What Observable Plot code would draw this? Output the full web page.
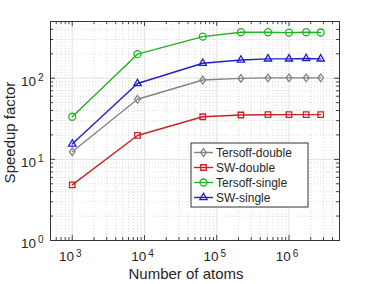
<!DOCTYPE html>
<html>
<head>
<meta charset="utf-8">
<script src="https://cdn.jsdelivr.net/npm/d3@7"></script>
<script src="https://cdn.jsdelivr.net/npm/@observablehq/plot@0.6"></script>
<style>
  html, body { margin: 0; padding: 0; background: #fff; }
  svg { font-family: "Liberation Sans", Arial, sans-serif; }
</style>
</head>
<body>
<div id="chart"></div>
<script>
// ---- data ----
const atoms = [1000, 8000, 64000, 216000, 512000, 1000000, 1728000, 2744000];
const seriesNames = ["Tersoff-double", "SW-double", "Tersoff-single", "SW-single"];
const tersoffDouble = [12.4, 55, 95, 99.5, 101, 101, 101, 101];
const swDouble = [4.85, 19.7, 33.5, 35.2, 35.5, 35.6, 35.6, 35.6];
const tersoffSingle = [33.5, 198, 326, 369, 369, 365, 369, 366];
const swSingle = [15.5, 86, 153, 168, 173, 173, 175, 173];
const seriesColors = ["#848484", "#c42424", "#1eb41e", "#2020c8"];
const xMajorTicks = [1e3, 1e4, 1e5, 1e6];
const yMajorTicks = [1, 10, 100];
const xLabel = "Number of atoms";
const yLabel = "Speedup factor";

const seriesValues = [tersoffDouble, swDouble, tersoffSingle, swSingle];
const rows = seriesNames.flatMap((name, i) =>
  atoms.map((a, j) => ({series: name, atoms: a, speedup: seriesValues[i][j]})));

const xDomain = [500, 5e6];
const yDomain = [1, 500];
const minorOf = (lo, hi) => {
  const out = [];
  const start = Math.floor(Math.log10(lo)), end = Math.ceil(Math.log10(hi));
  for (let e = start; e <= end; e++) for (let k = 2; k <= 9; k++) {
    const v = k * Math.pow(10, e);
    if (v > lo && v < hi) out.push(v);
  }
  return out;
};
const xMinor = minorOf(xDomain[0], xDomain[1]);
const yMinor = minorOf(yDomain[0], yDomain[1]);

const tallDiamond = {
  draw(ctx, size) {
    const s = Math.sqrt(size);
    const w = s * 0.46, h = s * 0.62;
    ctx.moveTo(0, -h); ctx.lineTo(w, 0); ctx.lineTo(0, h); ctx.lineTo(-w, 0); ctx.closePath();
  }
};
const symbols = [tallDiamond, "square2", "circle", "triangle2"];

const W = 374, H = 284, mL = 50, mR = 35, mT = 21, mB = 44;
const frameH = H - mT - mB, frameW = W - mL - mR;
const expFmt = d => "10|" + Math.round(Math.log10(d));

const svg = Plot.plot({
  width: W, height: H,
  marginLeft: mL, marginRight: mR, marginTop: mT, marginBottom: mB,
  style: {fontFamily: "Liberation Sans, Arial, sans-serif", background: "#fff"},
  x: {type: "log", domain: xDomain},
  y: {type: "log", domain: yDomain},
  color: {domain: seriesNames, range: seriesColors},
  symbol: {domain: seriesNames, range: symbols},
  marks: [
    Plot.ruleX(xMinor, {stroke: "#d2d2d2", strokeDasharray: "1,2", strokeWidth: 0.8}),
    Plot.ruleY(yMinor, {stroke: "#d2d2d2", strokeDasharray: "1,2", strokeWidth: 0.8}),
    Plot.ruleX(xMajorTicks, {stroke: "#e6e6e6", strokeWidth: 1.2}),
    Plot.ruleY(yMajorTicks, {stroke: "#e6e6e6", strokeWidth: 1.2}),
    // inward ticks on all four sides
    Plot.tickX(xMajorTicks, {x: d => d, insetTop: frameH - 5, stroke: "#444"}),
    Plot.tickX(xMajorTicks, {x: d => d, insetBottom: frameH - 5, stroke: "#444"}),
    Plot.tickX(xMinor, {x: d => d, insetTop: frameH - 3, stroke: "#444"}),
    Plot.tickX(xMinor, {x: d => d, insetBottom: frameH - 3, stroke: "#444"}),
    Plot.tickY(yMajorTicks, {y: d => d, insetRight: frameW - 5, stroke: "#444"}),
    Plot.tickY(yMajorTicks, {y: d => d, insetLeft: frameW - 5, stroke: "#444"}),
    Plot.tickY(yMinor, {y: d => d, insetRight: frameW - 3, stroke: "#444"}),
    Plot.tickY(yMinor, {y: d => d, insetLeft: frameW - 3, stroke: "#444"}),
    Plot.frame({stroke: "#333", strokeWidth: 1}),
    Plot.axisX(xMajorTicks, {tickSize: 0, tickPadding: 11, tickFormat: expFmt, fontSize: 13.5, fill: "#262626", label: null, dx: -2}),
    Plot.axisY(yMajorTicks, {tickSize: 0, tickPadding: 7, tickFormat: expFmt, fontSize: 13.5, fill: "#262626", label: null, dy: 3}),
    Plot.text([xLabel], {frameAnchor: "bottom", dx: -9, dy: 38, text: d => d, fontSize: 15, fill: "#262626"}),
    Plot.line(rows, {x: "atoms", y: "speedup", z: "series", stroke: "series", strokeWidth: 1.4}),
    Plot.dot(rows, {x: "atoms", y: "speedup", stroke: "series", symbol: "series", r: 3.5, fill: "none", strokeWidth: 1.3})
  ]
});

// superscript exponents on tick labels
d3.select(svg).selectAll('g[aria-label="x-axis tick label"] text, g[aria-label="y-axis tick label"] text').each(function () {
  const t = d3.select(this);
  const txt = t.text();
  if (!txt.includes("|")) return;
  const [base, exp] = txt.split("|");
  t.text(null).attr("font-size", 13.5);
  t.append("tspan").text(base);
  t.append("tspan").attr("dx", 2).attr("dy", "-0.45em").attr("font-size", "10px").text(exp);
});

// y-axis title
d3.select(svg).append("text")
  .attr("transform", `translate(15,${(mT + H - mB) / 2 + 2}) rotate(-90)`)
  .attr("text-anchor", "middle")
  .attr("font-family", "Liberation Sans, Arial, sans-serif")
  .attr("font-size", 15).attr("fill", "#262626")
  .text(yLabel);

// legend inside the plot
const lg = d3.select(svg).append("g").attr("class", "legend")
  .attr("font-family", "Liberation Sans, Arial, sans-serif")
  .attr("text-anchor", "start");
const lx = 191, ly = 143, lw = 117, lh = 64, rowH = 15;
lg.append("rect").attr("x", lx).attr("y", ly).attr("width", lw).attr("height", lh)
  .attr("fill", "#fff").attr("stroke", "#333").attr("stroke-width", 1);
seriesNames.forEach((name, i) => {
  const cy = ly + 9.5 + i * rowH;
  const col = seriesColors[i];
  lg.append("line").attr("x1", lx + 3).attr("x2", lx + 22).attr("y1", cy).attr("y2", cy)
    .attr("stroke", col).attr("stroke-width", 1.4);
  const sym = typeof symbols[i] === "string"
    ? {square2: d3.symbolSquare2, circle: d3.symbolCircle, triangle2: d3.symbolTriangle2}[symbols[i]]
    : symbols[i];
  lg.append("path").attr("d", d3.symbol(sym, 3.5 * 3.5 * Math.PI)())
    .attr("transform", `translate(${lx + 12.5},${cy})`)
    .attr("fill", "none").attr("stroke", col).attr("stroke-width", 1.3);
  lg.append("text").attr("x", lx + 25).attr("y", cy).attr("dy", "0.35em")
    .attr("text-anchor", "start")
    .attr("font-size", 12).attr("fill", "#262626").text(name);
});

document.getElementById("chart").appendChild(svg);
</script>
</body>
</html>
